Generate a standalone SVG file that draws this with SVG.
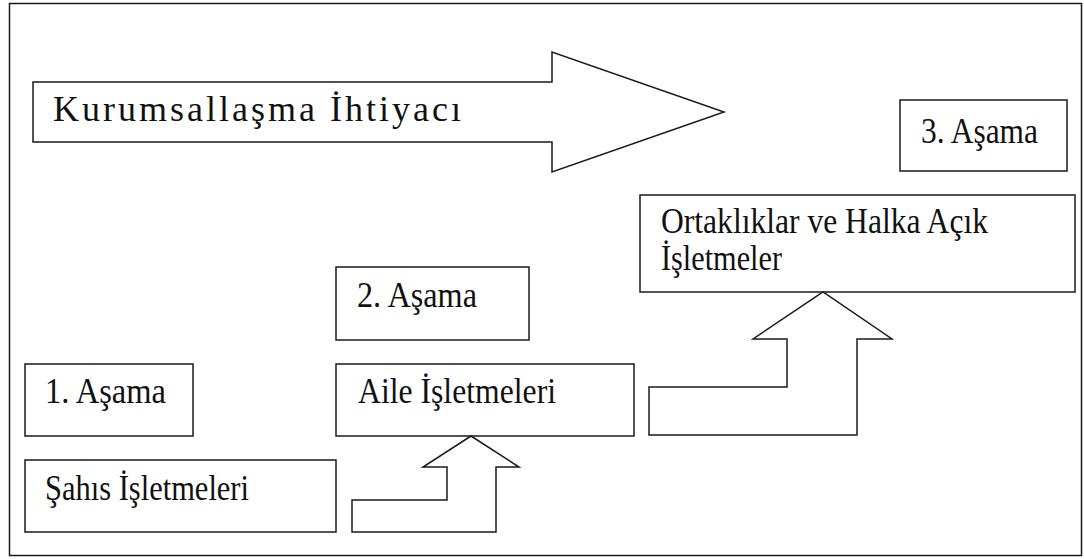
<svg xmlns="http://www.w3.org/2000/svg" width="1084" height="559" viewBox="0 0 1084 559">
  <style>
    .shape { fill: #ffffff; stroke: #1a1a1a; stroke-width: 1.5; stroke-linejoin: miter; }
    .label { font-family: "Liberation Serif", "Times New Roman", serif; font-size: 36px; fill: #111111; }
  </style>

  <!-- background and outer frame -->
  <rect x="0" y="0" width="1084" height="559" fill="#ffffff"/>
  <rect id="frame" class="shape" x="9.5" y="3.5" width="1072" height="552"/>

  <!-- wide arrow carrying the heading -->
  <g id="need-arrow">
    <polygon class="shape" points="33,82 552,82 552,52 724,112 552,172 552,142 33,142"/>
    <text class="label" x="53" y="121" textLength="408" lengthAdjust="spacing">Kurumsallaşma İhtiyacı</text>
  </g>

  <g id="stage3">
    <rect class="shape" x="900" y="100" width="167" height="71"/>
    <text class="label" x="921" y="143" textLength="117" lengthAdjust="spacingAndGlyphs">3. Aşama</text>
  </g>

  <g id="partnerships">
    <rect class="shape" x="640" y="195" width="435" height="97"/>
    <text class="label" x="661" y="233" textLength="327" lengthAdjust="spacingAndGlyphs">Ortaklıklar ve Halka Açık</text>
    <text class="label" x="661" y="270" textLength="121" lengthAdjust="spacingAndGlyphs">İşletmeler</text>
  </g>

  <g id="stage2">
    <rect class="shape" x="336" y="267" width="193" height="73"/>
    <text class="label" x="357" y="307" textLength="120" lengthAdjust="spacingAndGlyphs">2. Aşama</text>
  </g>

  <g id="stage1">
    <rect class="shape" x="25" y="364" width="168" height="72"/>
    <text class="label" x="45" y="403" textLength="121" lengthAdjust="spacingAndGlyphs">1. Aşama</text>
  </g>

  <g id="family">
    <rect class="shape" x="336" y="364" width="298" height="72"/>
    <text class="label" x="358" y="403" textLength="198" lengthAdjust="spacingAndGlyphs">Aile İşletmeleri</text>
  </g>

  <g id="sole">
    <rect class="shape" x="25" y="460" width="311" height="72"/>
    <text class="label" x="45" y="500" textLength="204" lengthAdjust="spacingAndGlyphs">Şahıs İşletmeleri</text>
  </g>

  <!-- step arrows between the levels -->
  <g id="connectors">
    <polygon class="shape" points="352,532 352,500 447,500 447,467 423,467 471,436 519,467 496,467 496,532"/>
    <polygon class="shape" points="649,435 649,387 787,387 787,339 753,339 823,292 892,339 857,339 857,435"/>
  </g>
</svg>
